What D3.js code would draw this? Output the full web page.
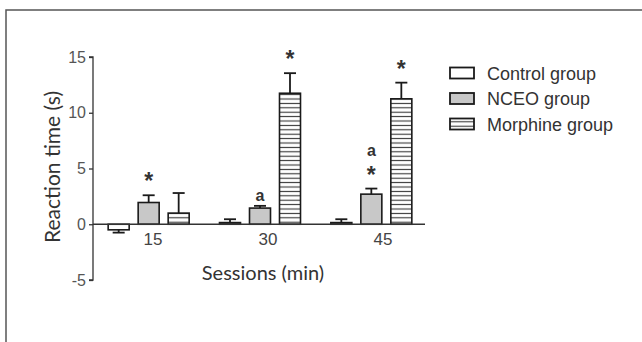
<!DOCTYPE html>
<html>
<head>
<meta charset="utf-8">
<script src="https://cdn.jsdelivr.net/npm/d3@7"></script>
<style>
  body { margin: 0; background: #fff; }
  svg { display: block; }
</style>
</head>
<body>
<svg id="chart" width="642" height="342"></svg>
<script>
// Data
const sessions = ['15', '30', '45'];
const groups = ['Control group', 'NCEO group', 'Morphine group'];
const controlMean = [-0.5, 0.15, 0.15];
const controlErr = [0.25, 0.3, 0.3];
const nceoMean = [1.95, 1.45, 2.7];
const nceoErr = [0.65, 0.2, 0.5];
const morphineMean = [1.0, 11.75, 11.25];
const morphineErr = [1.8, 1.8, 1.45];
const yTicks = [-5, 0, 5, 10, 15];
// significance marks: session, group index, label, stack level
const marks = [
  { s: '15', g: 1, label: '*', level: 0 },
  { s: '30', g: 1, label: 'a', level: 0 },
  { s: '30', g: 2, label: '*', level: 0 },
  { s: '45', g: 1, label: '*', level: 0 },
  { s: '45', g: 1, label: 'a', level: 1 },
  { s: '45', g: 2, label: '*', level: 0 }
];

const means = [controlMean, nceoMean, morphineMean];
const errs = [controlErr, nceoErr, morphineErr];
const rows = [];
sessions.forEach((s, i) => {
  groups.forEach((g, j) => {
    rows.push({ s, gi: j, mean: means[j][i], err: errs[j][i] });
  });
});

const svg = d3.select('#chart');

// outer frame (top and left edges only)
svg.append('path')
  .attr('d', 'M6,342 L6,10 L642,10')
  .attr('fill', 'none')
  .attr('stroke', '#555')
  .attr('stroke-width', 1.5);

const defs = svg.append('defs');
const pat = defs.append('pattern')
  .attr('id', 'stripes')
  .attr('patternUnits', 'userSpaceOnUse')
  .attr('width', 8)
  .attr('height', 4.4);
pat.append('rect').attr('width', 8).attr('height', 4.4).attr('fill', '#fff');
pat.append('line')
  .attr('x1', 0).attr('x2', 8).attr('y1', 2.2).attr('y2', 2.2)
  .attr('stroke', '#333').attr('stroke-width', 1.1);

const x0 = d3.scaleBand().domain(sessions).range([93, 427]);
const x1 = d3.scaleBand().domain(d3.range(3)).range([0, 81]).paddingInner(0.3);
const y = d3.scaleLinear().domain([-5, 15]).range([280, 57]);
// tick labels sit a little right of the group centres in the original
const xLab = d3.scalePoint().domain(sessions).range([153, 383]);

const fills = ['#fff', '#c8c8c8', 'url(#stripes)'];
const barX = d => x0(d.s) + (x0.bandwidth() - 81) / 2 + x1(d.gi);

// bars
svg.append('g').selectAll('rect')
  .data(rows)
  .join('rect')
  .attr('x', barX)
  .attr('width', x1.bandwidth())
  .attr('y', d => y(Math.max(0, d.mean)))
  .attr('height', d => Math.abs(y(d.mean) - y(0)))
  .attr('fill', d => fills[d.gi])
  .attr('stroke', '#1a1a1a')
  .attr('stroke-width', 1.6);

// error bars (one sided, away from zero)
const eb = svg.append('g').attr('stroke', '#1a1a1a').attr('stroke-width', 1.8);
rows.forEach(d => {
  const cx = barX(d) + x1.bandwidth() / 2;
  const sign = d.mean < 0 ? -1 : 1;
  const yEnd = y(d.mean + sign * d.err);
  eb.append('line').attr('x1', cx).attr('x2', cx).attr('y1', y(d.mean)).attr('y2', yEnd);
  eb.append('line').attr('x1', cx - 6).attr('x2', cx + 6).attr('y1', yEnd).attr('y2', yEnd);
});

// y axis
const yAxis = svg.append('g')
  .attr('transform', 'translate(93,0)')
  .call(d3.axisLeft(y).tickValues(yTicks).tickSize(4).tickPadding(3).tickFormat(d => String(d)));
yAxis.select('.domain').attr('stroke', '#333').attr('stroke-width', 1.3).attr('d', `M-4,${y(15)}H0V${y(-5)}H-4`);
yAxis.selectAll('.tick line').attr('stroke', '#333').attr('stroke-width', 1.3);
yAxis.selectAll('.tick text')
  .attr('font-family', 'Liberation Sans, Arial, sans-serif')
  .attr('font-size', 16)
  .attr('fill', '#555');

// zero baseline
svg.append('line')
  .attr('x1', 93).attr('x2', 425)
  .attr('y1', y(0)).attr('y2', y(0))
  .attr('stroke', '#333').attr('stroke-width', 1.3);

// x tick labels
svg.append('g').selectAll('text')
  .data(sessions)
  .join('text')
  .attr('x', d => xLab(d))
  .attr('y', 245)
  .attr('text-anchor', 'middle')
  .attr('font-family', 'Liberation Sans, Arial, sans-serif')
  .attr('font-size', 17)
  .attr('fill', '#444')
  .text(d => d);

// significance marks
const byKey = new Map(rows.map(d => [d.s + '-' + d.gi, d]));
svg.append('g').selectAll('text')
  .data(marks)
  .join('text')
  .attr('x', d => barX(byKey.get(d.s + '-' + d.g)) + x1.bandwidth() / 2)
  .attr('y', d => {
    const r = byKey.get(d.s + '-' + d.g);
    const top = y(r.mean + r.err);
    if (d.label === 'a') return top - (d.level ? 33 : 5);
    return top - 6;
  })
  .attr('text-anchor', 'middle')
  .attr('font-family', 'Liberation Sans, Arial, sans-serif')
  .attr('font-size', d => d.label === 'a' ? 16 : 23)
  .attr('font-weight', 'bold')
  .attr('fill', '#333')
  .text(d => d.label);

// axis titles
svg.append('text')
  .attr('transform', 'translate(60,167) rotate(-90)')
  .attr('text-anchor', 'middle')
  .attr('font-family', 'Lato, Open Sans, sans-serif')
  .attr('font-size', 21)
  .attr('fill', '#333')
  .text('Reaction time (s)');

svg.append('text')
  .attr('x', 263)
  .attr('y', 280)
  .attr('text-anchor', 'middle')
  .attr('font-family', 'Lato, Open Sans, sans-serif')
  .attr('font-size', 20)
  .attr('fill', '#333')
  .text('Sessions (min)');

// legend
const leg = svg.append('g');
groups.forEach((g, i) => {
  const row = leg.append('g').attr('transform', `translate(450,${73 + i * 25.5})`);
  row.append('rect')
    .attr('x', 0).attr('y', -5.5)
    .attr('width', 24).attr('height', 11)
    .attr('fill', fills[i])
    .attr('stroke', '#1a1a1a')
    .attr('stroke-width', 1.8);
  row.append('text')
    .attr('x', 37).attr('y', 6.5)
    .attr('font-family', 'Liberation Sans, Arial, sans-serif')
    .attr('font-size', 18)
    .attr('fill', '#333')
    .text(g);
});
</script>
</body>
</html>
